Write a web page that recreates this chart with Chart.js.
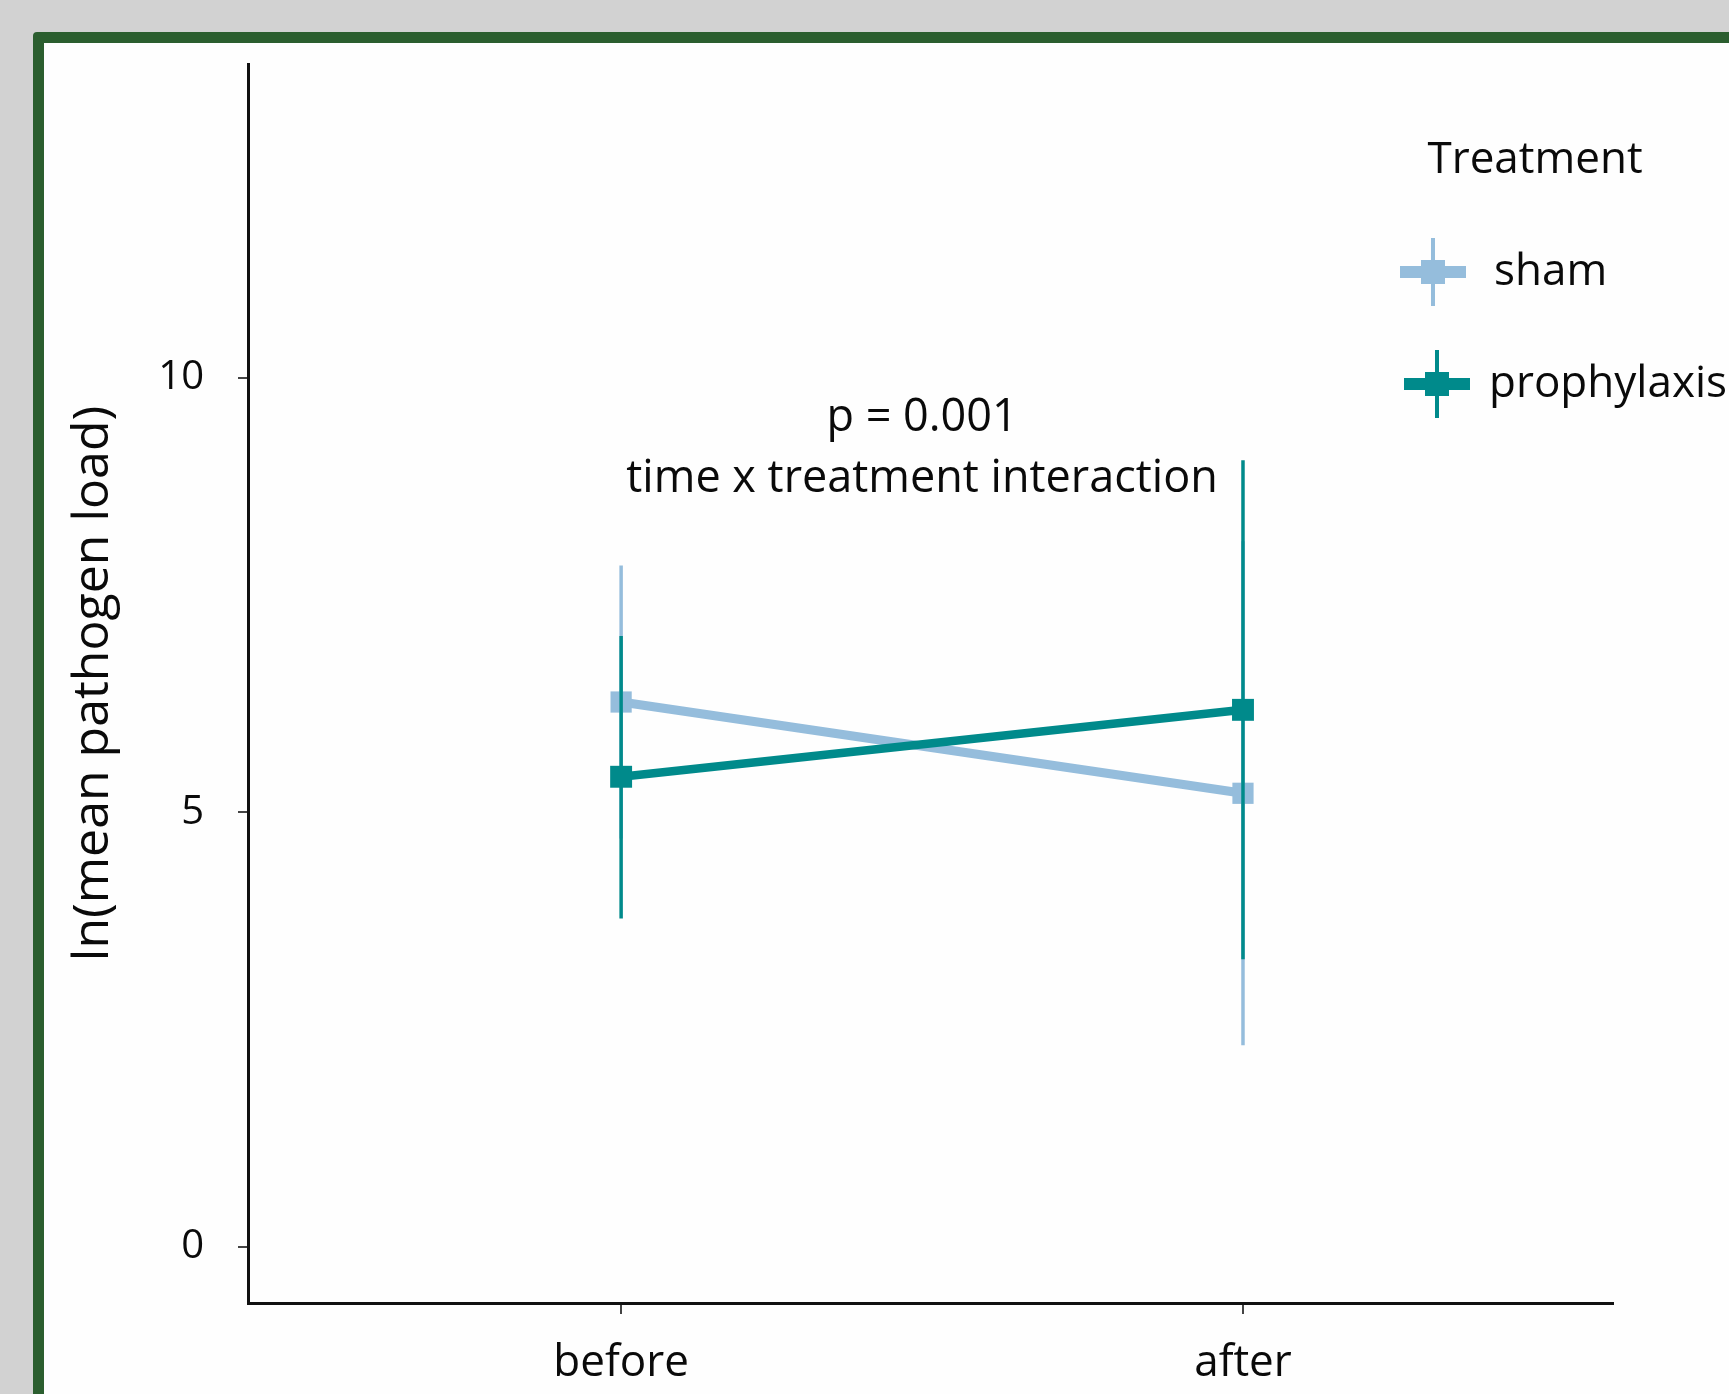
<!DOCTYPE html>
<html>
<head>
<meta charset="utf-8">
<script src="https://cdn.jsdelivr.net/npm/chart.js@4.4.1/dist/chart.umd.min.js"></script>
<style>
  html, body { margin: 0; padding: 0; background: #d2d2d2; overflow: hidden; }
  #frame {
    position: absolute; left: 33px; top: 32px; width: 1729px; height: 1394px;
    border: 11px solid #2b5e2f; border-radius: 4px; background: #fefefe;
  }
  #chart { position: absolute; left: 0; top: 0; }
</style>
</head>
<body>
<div id="frame"></div>
<canvas id="chart" width="1729" height="1394"></canvas>
<script>
// dados
const tempos = ['before', 'after'];
const tratamentos = ['sham', 'prophylaxis'];
const shamMedia = [6.27, 5.22];
const shamBaixo = [4.70, 2.32];
const shamAlto = [7.84, 8.12];
const profMedia = [5.41, 6.18];
const profBaixo = [3.78, 3.31];
const profAlto = [7.03, 9.05];
const yTicks = [0, 5, 10];
const anotacao = ['p = 0.001', 'time x treatment interaction'];

const corSham = '#95bddc';
const corProf = '#008a8b';
const fonte = '"Open Sans", sans-serif';

const erros = [
    { baixo: shamBaixo, alto: shamAlto },
    { baixo: profBaixo, alto: profAlto }
];

function pontos(medias) {
    return medias.map((v, i) => ({ x: i, y: v }));
}

// barras de erro desenhadas antes de cada serie
const barrasErro = {
    id: 'barrasErro',
    beforeDatasetDraw(chart, args) {
        const { ctx, scales: { x, y } } = chart;
        const ds = chart.data.datasets[args.index];
        const e = erros[args.index];
        ctx.save();
        ctx.strokeStyle = ds.borderColor;
        ctx.lineWidth = 3.5;
        tempos.forEach((t, i) => {
            const px = x.getPixelForValue(i);
            ctx.beginPath();
            ctx.moveTo(px, y.getPixelForValue(e.baixo[i]));
            ctx.lineTo(px, y.getPixelForValue(e.alto[i]));
            ctx.stroke();
        });
        ctx.restore();
    }
};

// texto do p-valor e legenda
const extras = {
    id: 'extras',
    afterDraw(chart) {
        const { ctx, scales: { x, y } } = chart;
        ctx.save();
        ctx.fillStyle = '#0a0a0a';
        ctx.font = '45px ' + fonte;
        ctx.textAlign = 'center';
        ctx.textBaseline = 'middle';
        ctx.fillText(anotacao[0], x.getPixelForValue(0.484), y.getPixelForValue(9.54));
        ctx.fillText(anotacao[1], x.getPixelForValue(0.484), y.getPixelForValue(8.83));

        ctx.font = '44px ' + fonte;
        ctx.fillText('Treatment', 1535, 160);
        const itens = [
            { cx: 1433, cy: 272, tx: 1494 },
            { cx: 1437, cy: 384, tx: 1489 }
        ];
        chart.data.datasets.forEach((ds, i) => {
            const it = itens[i];
            ctx.fillStyle = ds.borderColor;
            ctx.fillRect(it.cx - 33, it.cy - 6, 66, 12);
            ctx.fillRect(it.cx - 12, it.cy - 12, 24, 24);
            ctx.fillRect(it.cx - 2, it.cy - 34, 4, 68);
            ctx.fillStyle = '#0a0a0a';
            ctx.textAlign = 'left';
            ctx.fillText(ds.label, it.tx, it.cy);
        });
        ctx.restore();
    }
};

const ctx = document.getElementById('chart').getContext('2d');
const chart = new Chart(ctx, {
    type: 'line',
    data: {
        datasets: [
            {
                label: tratamentos[0],
                data: pontos(shamMedia),
                borderColor: corSham,
                backgroundColor: corSham,
                borderWidth: 9,
                pointStyle: 'rect',
                pointRadius: 15,
                pointBorderWidth: 0,
                order: 2
            },
            {
                label: tratamentos[1],
                data: pontos(profMedia),
                borderColor: corProf,
                backgroundColor: corProf,
                borderWidth: 8.5,
                pointStyle: 'rect',
                pointRadius: 15.5,
                pointBorderWidth: 0,
                order: 1
            }
        ]
    },
    options: {
        responsive: false,
        animation: false,
        layout: { padding: { left: 0, top: 64, right: 116, bottom: 0 } },
        plugins: {
            legend: { display: false },
            tooltip: { enabled: false }
        },
        scales: {
            x: {
                type: 'linear',
                min: -0.6,
                max: 1.595,
                afterBuildTicks: (s) => { s.ticks = tempos.map((t, i) => ({ value: i })); },
                afterFit: (s) => { s.height = 91; },
                ticks: {
                    callback: (v) => tempos[v],
                    font: { family: fonte, size: 44 },
                    color: '#0a0a0a',
                    padding: 23,
                    maxRotation: 0
                },
                grid: { display: true, drawOnChartArea: false, drawTicks: true, tickLength: 11, color: '#444', lineWidth: 2 },
                border: { display: true, color: '#111', width: 3 }
            },
            y: {
                min: -0.644,
                max: 13.61,
                afterBuildTicks: (s) => { s.ticks = yTicks.map(v => ({ value: v })); },
                afterFit: (s) => { s.width = 248; },
                ticks: {
                    font: { family: fonte, size: 40 },
                    color: '#0a0a0a',
                    padding: 34
                },
                grid: { display: true, drawOnChartArea: false, drawTicks: true, tickLength: 10, color: '#444', lineWidth: 2 },
                border: { display: true, color: '#111', width: 3 },
                title: {
                    display: true,
                    text: 'ln(mean pathogen load)',
                    font: { family: fonte, size: 50 },
                    color: '#0a0a0a',
                    padding: { top: 64, bottom: 0 }
                }
            }
        }
    },
    plugins: [barrasErro, extras]
});
</script>
</body>
</html>
